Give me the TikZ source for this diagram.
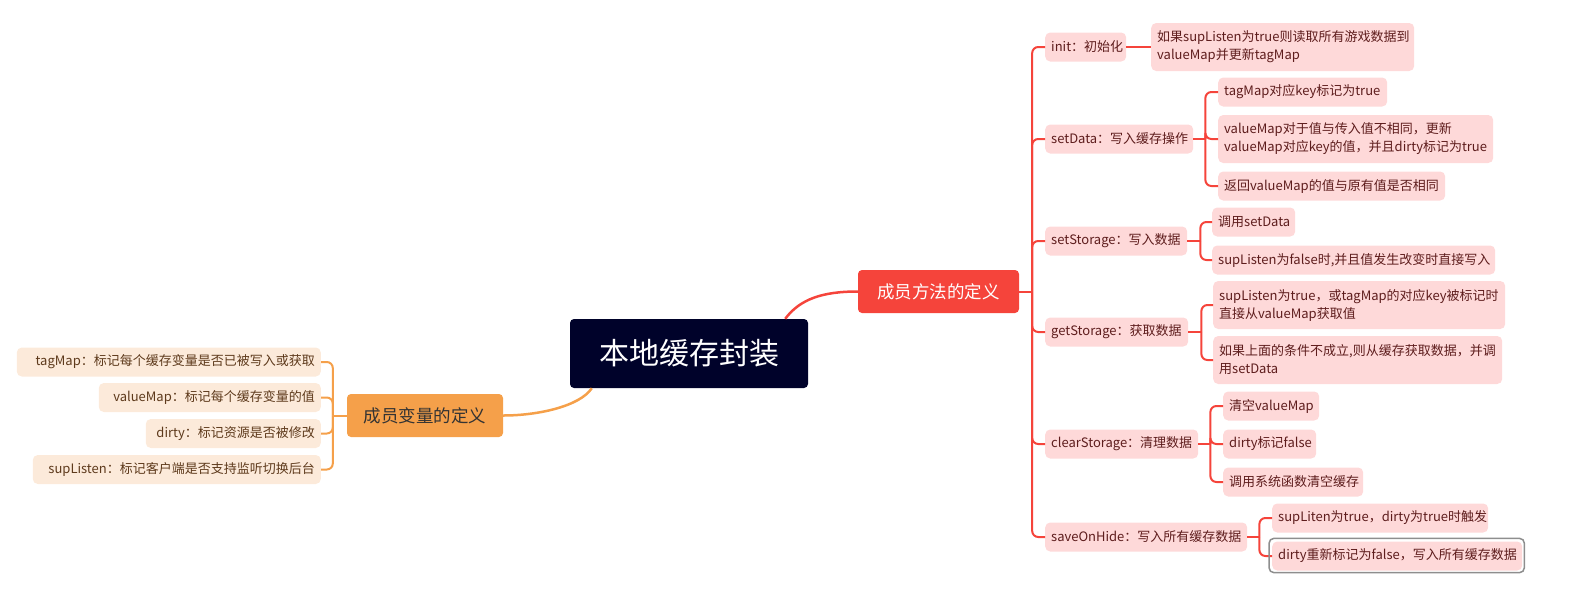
\documentclass[tikz,border=0pt]{standalone}
\usepackage{fontspec}
\setmainfont{Noto Sans CJK SC}
\usepackage{tikz}

\definecolor{rootblue}{HTML}{00022A}
\definecolor{methred}{HTML}{F5443B}
\definecolor{varorange}{HTML}{F5A04A}
\definecolor{methpink}{HTML}{FED9D9}
\definecolor{methtext}{HTML}{5E1D1D}
\definecolor{varcream}{HTML}{FCEADA}
\definecolor{vartext}{HTML}{5E3A1C}
\definecolor{selgray}{HTML}{8E8E8E}

\begin{document}
\begin{tikzpicture}[x=1pt,y=-1pt,
  rootbox/.style={fill=rootblue, text=white, rounded corners=4pt, minimum width=238pt, minimum height=69pt, font=\fontsize{30}{34}\selectfont},
  methbox/.style={fill=methred, text=white, rounded corners=4pt, minimum width=161pt, minimum height=43pt, font=\fontsize{17.5}{21}\selectfont},
  varbox/.style={fill=varorange, text=black!80, rounded corners=4pt, minimum width=156pt, minimum height=43pt, font=\fontsize{17.5}{21}\selectfont},
  mleaf/.style={fill=methpink, text=methtext, rounded corners=5pt, inner xsep=6pt, inner ysep=0pt, minimum height=29pt, align=left, anchor=west, font=\fontsize{13}{18}\selectfont},
  vleaf/.style={fill=varcream, text=vartext, rounded corners=5pt, inner xsep=6pt, inner ysep=0pt, minimum height=29pt, align=right, anchor=east, font=\fontsize{13}{18}\selectfont},
  twoline/.style={minimum height=48pt},
  mline/.style={draw=methred, line width=2pt},
  vline/.style={draw=varorange, line width=2pt},
  elbow/.style={rounded corners=6pt}]
\useasboundingbox (0,0) rectangle (1582,598);

\node[rootbox] (root) at (689,353.5) {本地缓存封装};
\node[methbox] (meth) at (938.5,291.5) {成员方法的定义};
\node[varbox] (vars) at (425,415.5) {成员变量的定义};

% methods
\node[mleaf, text width=69pt] (init) at (1045,47) {init：初始化};
\node[mleaf, text width=136pt] (setdata) at (1045,139) {setData：写入缓存操作};
\node[mleaf, text width=130pt] (setstor) at (1045,241) {setStorage：写入数据};
\node[mleaf, text width=131pt] (getstor) at (1045,332) {getStorage：获取数据};
\node[mleaf, text width=141pt] (clearstor) at (1045,444) {clearStorage：清理数据};
\node[mleaf, text width=190pt] (savehide) at (1045,537) {saveOnHide：写入所有缓存数据};

\node[mleaf, twoline, text width=251pt] (initc) at (1151,47) {如果supListen为true则读取所有游戏数据到\\valueMap并更新tagMap};
\node[mleaf, text width=157pt] (sd1) at (1218,92) {tagMap对应key标记为true};
\node[mleaf, twoline, text width=263pt] (sd2) at (1218,139) {valueMap对于值与传入值不相同，更新\\valueMap对应key的值，并且dirty标记为true};
\node[mleaf, text width=215pt] (sd3) at (1218,186) {返回valueMap的值与原有值是否相同};
\node[mleaf, text width=71pt] (ss1) at (1212,222) {调用setData};
\node[mleaf, text width=271pt] (ss2) at (1212,260) {supListen为false时,并且值发生改变时直接写入};
\node[mleaf, twoline, text width=280pt] (gs1) at (1213,305) {supListen为true，或tagMap的对应key被标记时\\直接从valueMap获取值};
\node[mleaf, twoline, text width=277pt] (gs2) at (1213,360) {如果上面的条件不成立,则从缓存获取数据，并调\\用setData};
\node[mleaf, text width=84pt] (cs1) at (1223,406) {清空valueMap};
\node[mleaf, text width=81pt] (cs2) at (1223,444) {dirty标记false};
\node[mleaf, text width=128pt] (cs3) at (1223,482) {调用系统函数清空缓存};
\node[mleaf, text width=204pt] (so1) at (1272,518) {supLiten为true，dirty为true时触发};
\node[mleaf, text width=238pt] (so2) at (1272,556) {dirty重新标记为false，写入所有缓存数据};

% variables
\node[vleaf, text width=292pt] (tagmap) at (321,362) {tagMap：标记每个缓存变量是否已被写入或获取};
\node[vleaf, text width=210pt] (valuemap) at (321,397.5) {valueMap：标记每个缓存变量的值};
\node[vleaf, text width=163pt] (dirty) at (321,433.5) {dirty：标记资源是否被修改};
\node[vleaf, text width=276pt] (suplisten) at (321,469.5) {supListen：标记客户端是否支持监听切换后台};

\coordinate (mj) at ([xshift=13pt]meth.east); % trunk
\coordinate (sdj) at ([xshift=12pt]setdata.east);
\coordinate (ssj) at ([xshift=13pt]setstor.east);
\coordinate (gsj) at ([xshift=13pt]getstor.east);
\coordinate (csj) at ([xshift=12pt]clearstor.east);
\coordinate (soj) at ([xshift=12pt]savehide.east);
\coordinate (vj) at ([xshift=-14pt]vars.west);

\draw[mline, line width=2.5pt] ([xshift=-23pt]root.north east) .. controls +(15,-20) and +(-35,0) .. (meth.west);
\draw[vline, line width=2.5pt] ([xshift=22pt]root.south west) .. controls +(-12,18) and +(35,0) .. (vars.east);

\draw[mline] (meth.east) -- (mj);
\foreach \n in {init,setdata,setstor,getstor,clearstor,savehide}
  \draw[mline, elbow] (mj) |- (\n.west);
\draw[mline] (init.east) -- (initc.west);
\draw[mline] (setdata.east) -- (sdj);
\foreach \n in {sd1,sd2,sd3}
  \draw[mline, elbow] (sdj) |- (\n.west);
\draw[mline] (setstor.east) -- (ssj);
\foreach \n in {ss1,ss2}
  \draw[mline, elbow] (ssj) |- (\n.west);
\draw[mline] (getstor.east) -- (gsj);
\foreach \n in {gs1,gs2}
  \draw[mline, elbow] (gsj) |- (\n.west);
\draw[mline] (clearstor.east) -- (csj);
\foreach \n in {cs1,cs2,cs3}
  \draw[mline, elbow] (csj) |- (\n.west);
\draw[mline] (savehide.east) -- (soj);
\foreach \n in {so1,so2}
  \draw[mline, elbow] (soj) |- (\n.west);

\draw[vline] (vars.west) -- (vj);
\foreach \n in {tagmap,valuemap,dirty,suplisten}
  \draw[vline, elbow] (vj) |- (\n.east);

% selection frame
\draw[selgray, line width=1.5pt, rounded corners=5pt]
  ([xshift=-3pt,yshift=-2pt]so2.south west) rectangle ([xshift=2pt,yshift=3pt]so2.north east);
\end{tikzpicture}
\end{document}
